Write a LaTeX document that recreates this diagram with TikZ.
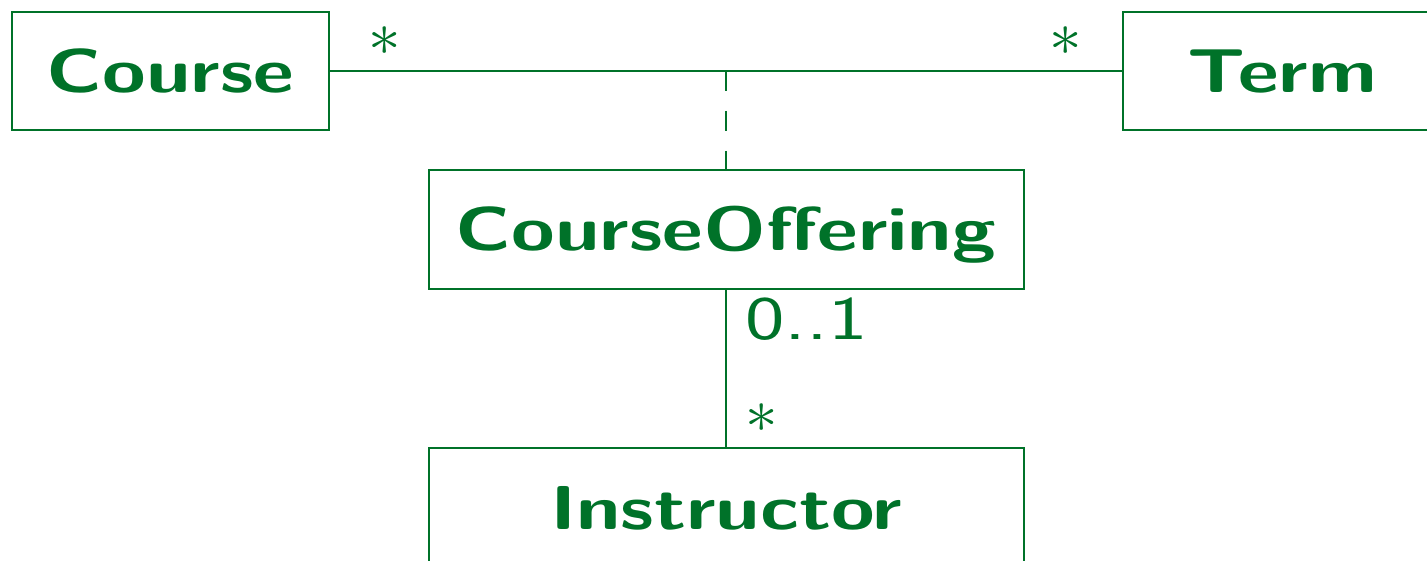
\documentclass[tikz,border=0pt]{standalone}
\usepackage{fontspec}
\usepackage{graphicx}
\newfontfamily\clsfont{Latin Modern Sans}[FakeStretch=1.28]
\newfontfamily\multfont{Latin Modern Sans}[FakeStretch=1.35]
\newcommand{\bigast}{\scalebox{6.5}[6.2]{\fontsize{10}{12}\selectfont$\ast$}}
\definecolor{umlgreen}{RGB}{0,114,41}
\begin{document}
\begin{tikzpicture}[x=1pt,y=-1pt,
  cls/.style={draw=umlgreen, line width=2pt, rectangle, minimum width=#1, minimum height=118pt,
    inner sep=0pt, text=umlgreen, font=\clsfont\bfseries\fontsize{62}{74}\selectfont,
    text height=43pt, text depth=0pt},
  mult/.style={text=umlgreen, inner sep=0pt, anchor=base, font=\multfont\fontsize{62}{74}\selectfont},
  assoc/.style={draw=umlgreen, line width=2pt},
  linkdash/.style={assoc, dash pattern=on 20pt off 20pt}]
\path[use as bounding box] (0,0) rectangle (1427,561);
\node[cls=317pt] (course) at (170.5,71) {Course};
\node[cls=318pt] (term) at (1282,71) {Term};
\node[cls=595pt, minimum height=119pt] (offering) at (726,229.5) {CourseOffering};
\node[cls=595pt, minimum height=119pt] (instr) at (726,507.5) {Instructor};
\draw[assoc] (course.east) -- (term.west);
\coordinate (mid) at (726,71);
\draw[linkdash] (mid) -- (offering.north);
\draw[assoc] (offering.south) -- (instr.north);
\node[mult] (m1) at (384.5,55.5) {\bigast};
\node[mult] (m2) at (1066,55.5) {\bigast};
\node[mult, anchor=base west] (m3) at (745,339) {0..1};
\node[mult] (m4) at (762,432.5) {\bigast};
\end{tikzpicture}
\end{document}
